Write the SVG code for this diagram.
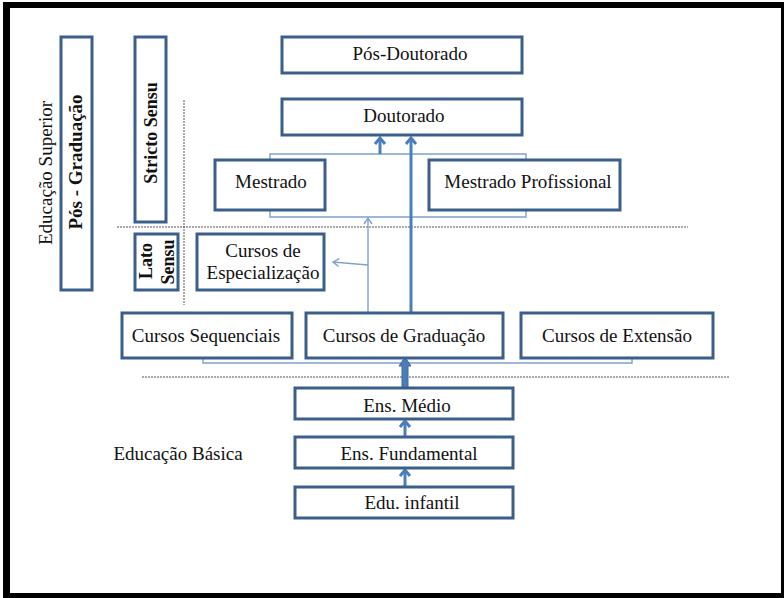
<svg xmlns="http://www.w3.org/2000/svg" width="784" height="598" viewBox="0 0 784 598" font-family="'Liberation Serif', 'DejaVu Serif', serif">
<defs>
<style>
text{font-family:'Liberation Serif','DejaVu Serif',serif}
.t{font-size:19px;fill:#111;text-anchor:middle}
.b{font-weight:bold}
.s18{font-size:18px}
.box{fill:#fff;stroke:#3A5F8B;stroke-width:3}
.thick{stroke:#4A7EBB;stroke-width:3;fill:none}
.thin{stroke:#7FA1CC;stroke-width:1.4;fill:none}
.dot{stroke:#555;stroke-width:1;stroke-dasharray:2 1;fill:none}
.frame{fill:#000}
</style>
<marker id="ah" markerUnits="userSpaceOnUse" viewBox="-10 -8 12 16" markerWidth="12" markerHeight="16" refX="0" refY="0" orient="auto"><path d="M-6,-5 L0,0 L-6,5" fill="none" stroke="#4A7EBB" stroke-width="3"/></marker>
<marker id="ahs" markerUnits="userSpaceOnUse" viewBox="-10 -8 12 16" markerWidth="12" markerHeight="16" refX="0" refY="0" orient="auto"><path d="M-6,-4 L0,0 L-6,4" fill="none" stroke="#7FA1CC" stroke-width="1.4"/></marker>
</defs>
<rect width="784" height="598" fill="#fff"/>
<g id="frame">
<rect class="frame" x="3" y="2" width="781" height="6"/>
<rect class="frame" x="3" y="2" width="7" height="596"/>
<rect class="frame" x="3" y="593" width="781" height="5"/>
<rect class="frame" x="781" y="2" width="3" height="596"/>
</g>
<g id="separators">
<line class="dot" x1="184" y1="100" x2="184" y2="305"/>
<line class="dot" x1="117" y1="227" x2="688" y2="227"/>
<line class="dot" x1="142" y1="377" x2="730" y2="377"/>
</g>
<g id="connectors">
<path class="thin" d="M270,160 V154 H526 V160"/>
<path class="thin" d="M270,210 V217 H526 V210"/>
<path class="thin" d="M203,358 V363 H632 V358"/>
<line class="thin" x1="368" y1="313" x2="368" y2="218" marker-end="url(#ahs)"/>
<line class="thin" x1="368" y1="265" x2="333" y2="262" marker-end="url(#ahs)"/>
<line class="thick" x1="380" y1="154" x2="380" y2="138" marker-end="url(#ah)"/>
<line class="thick" x1="411" y1="313" x2="411" y2="138" marker-end="url(#ah)"/>
<polygon points="405,357 411,366 408,366 408,388 402,388 402,366 399,366" fill="#4A7EBB" stroke="#3A6AA6" stroke-width="1"/>
<line class="thick" x1="405" y1="437" x2="405" y2="421" marker-end="url(#ah)"/>
<line class="thick" x1="405" y1="487" x2="405" y2="470" marker-end="url(#ah)"/>
</g>
<g id="educacao-superior"><text class="t" transform="translate(52,173) rotate(-90)">Educação Superior</text></g>
<g id="pos-graduacao"><rect class="box" x="61" y="37" width="31" height="253"/><text class="t b" transform="translate(82,162) rotate(-90)">Pós - Graduação</text></g>
<g id="stricto-sensu"><rect class="box" x="135" y="37" width="31" height="185"/><text class="t b s18" transform="translate(157,133) rotate(-90)">Stricto Sensu</text></g>
<g id="lato-sensu"><rect class="box" x="135" y="234" width="43" height="56"/><text class="t b s18" transform="translate(152,261) rotate(-90)">Lato</text><text class="t b s18" transform="translate(174,262) rotate(-90)">Sensu</text></g>
<g id="pos-doutorado"><rect class="box" x="282" y="37" width="240" height="36"/><text class="t" x="410" y="60">Pós-Doutorado</text></g>
<g id="doutorado"><rect class="box" x="282" y="99" width="240" height="36"/><text class="t" x="404" y="122">Doutorado</text></g>
<g id="mestrado"><rect class="box" x="215" y="160" width="110" height="50"/><text class="t" x="271" y="188">Mestrado</text></g>
<g id="mestrado-profissional"><rect class="box" x="429" y="160" width="191" height="50"/><text class="t" x="528" y="188">Mestrado Profissional</text></g>
<g id="especializacao"><rect class="box" x="197" y="234" width="127" height="56"/><text class="t" x="263" y="257">Cursos de</text><text class="t" x="263" y="279">Especialização</text></g>
<g id="sequenciais"><rect class="box" x="122" y="313" width="170" height="45"/><text class="t" x="206" y="342">Cursos Sequenciais</text></g>
<g id="graduacao"><rect class="box" x="306" y="313" width="197" height="45"/><text class="t" x="404" y="342">Cursos de Graduação</text></g>
<g id="extensao"><rect class="box" x="521" y="313" width="192" height="45"/><text class="t" x="617" y="342">Cursos de Extensão</text></g>
<g id="ens-medio"><rect class="box" x="295" y="388" width="218" height="31"/><text class="t" x="407" y="412">Ens. Médio</text></g>
<g id="ens-fundamental"><rect class="box" x="295" y="437" width="218" height="31"/><text class="t" x="409" y="460">Ens. Fundamental</text></g>
<g id="edu-infantil"><rect class="box" x="295" y="487" width="218" height="31"/><text class="t" x="412" y="509">Edu. infantil</text></g>
<g id="educacao-basica"><text class="t" x="178" y="460">Educação Básica</text></g>
</svg>
